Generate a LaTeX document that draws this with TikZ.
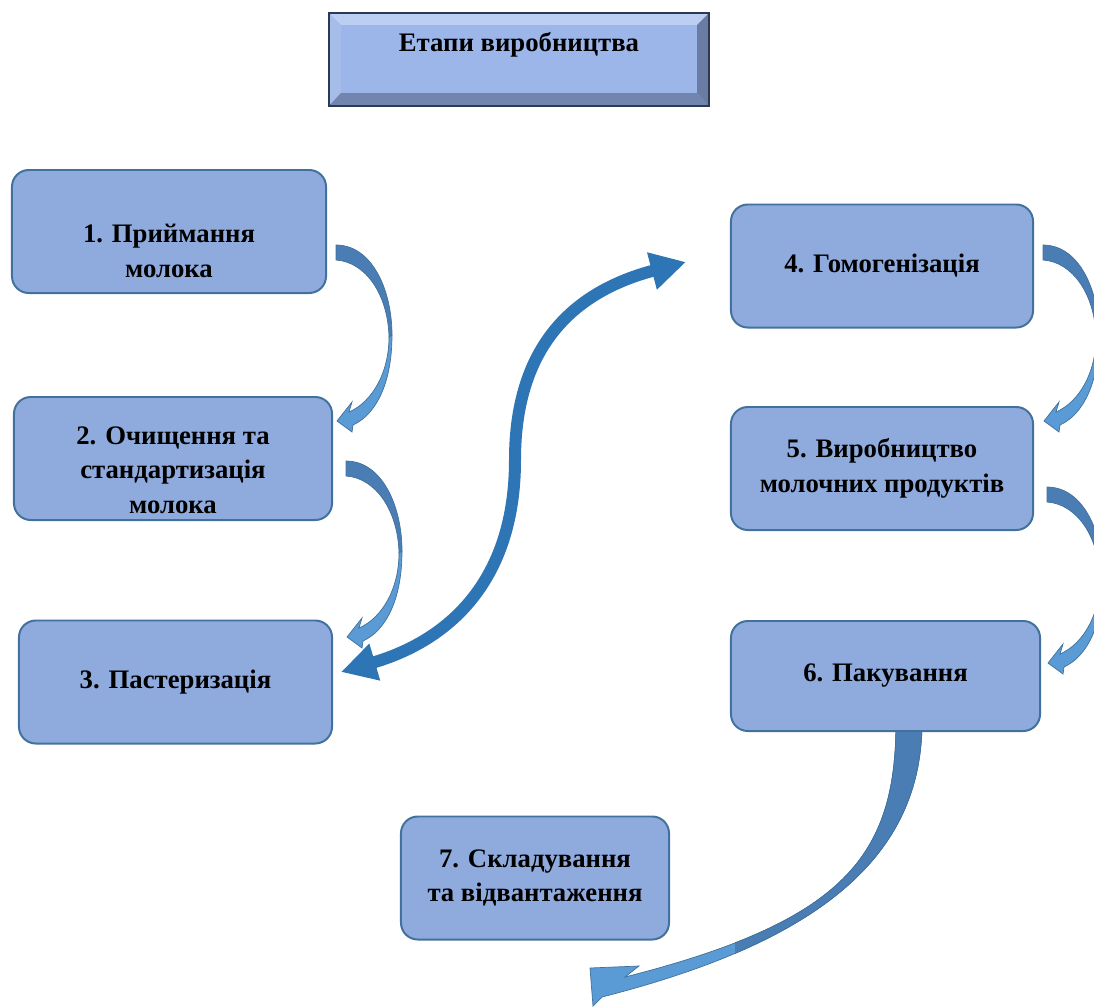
\documentclass[tikz,border=0pt]{standalone}
\usepackage{fontspec}
\setmainfont{Liberation Serif}
\usetikzlibrary{arrows.meta,calc,backgrounds}
\definecolor{stagefill}{HTML}{8FAADC}
\definecolor{stageline}{HTML}{41719C}
\definecolor{titleface}{HTML}{9CB6EA}
\definecolor{titlelight}{HTML}{BCCEF2}
\definecolor{titleside}{HTML}{A7BDE9}
\definecolor{titleshade}{HTML}{6A7CA3}
\definecolor{titledark}{HTML}{2B3954}
\definecolor{arrowdark}{HTML}{4A7DB4}
\definecolor{arrowlight}{HTML}{5B9BD5}
\definecolor{swingblue}{HTML}{2E75B6}

\begin{document}
\begin{tikzpicture}[x=0.025cm, y=-0.025cm,
  stage/.style={draw=stageline, line width=1.4pt, fill=stagefill, rounded corners=0.42cm,
    minimum height=3.075cm, align=center, font=\fontsize{19}{24.5}\selectfont\bfseries},
  titlebox/.style={draw=titledark, line width=1.6pt, fill=titleface, minimum width=9.45cm,
    minimum height=2.275cm, font=\fontsize{19}{24.5}\selectfont\bfseries},
  swing/.style={swingblue, line width=0.3cm,
    {Triangle[length=0.88cm,width=0.9cm]}-{Triangle[length=0.88cm,width=0.9cm]}},
  pics/bentarrow/.style={code={
    % back of the bend
    \filldraw[fill=arrowdark, draw=stageline, line width=0.5pt]
      (0,0) .. controls (36,0) and (56,45) .. (56,90)
      -- (53,92) .. controls (52,50) and (30,17) .. (0,15) -- cycle;
    % front of the bend with the head
    \filldraw[fill=arrowlight, draw=stageline, line width=0.5pt]
      (56,90) .. controls (56,140) and (39,170) .. (17,180)
      -- (16,187) -- (1,176) -- (16,157) -- (13,167)
      .. controls (36,157) and (53,128) .. (53,92) -- cycle;
  }}
]
  \useasboundingbox (0,0) rectangle (1094,1007);
  \clip (0,0) rectangle (1094,1007);

  % Title
  \node[titlebox, text depth=0.875cm] (title) at (519,59.5) {Етапи виробництва};
  \fill[titlelight] (title.north west) -- (title.north east) -- ($(title.north east)+(-12,12)$)
    -- ($(title.north west)+(12,12)$) -- cycle;
  \fill[titleside] (title.north west) -- ($(title.north west)+(12,12)$)
    -- ($(title.south west)+(12,-13)$) -- (title.south west) -- cycle;
  \fill[titleshade] (title.north east) -- ($(title.north east)+(-12,12)$)
    -- ($(title.south east)+(-12,-13)$) -- (title.south east) -- cycle;
  \fill[titleshade!85!titleface] (title.south west) -- ($(title.south west)+(12,-13)$)
    -- ($(title.south east)+(-12,-13)$) -- (title.south east) -- cycle;
  \draw[titledark, line width=1.6pt] (title.north west) rectangle (title.south east);

  % Stages, left column
  \node[stage, minimum width=7.85cm, text height=2.3cm] (receive) at (169,231.5) {1. Приймання\\молока};
  \node[stage, minimum width=7.95cm, text height=2.75cm] (clean) at (173,458.5) {2. Очищення та\\стандартизація\\молока};
  \node[stage, minimum width=7.825cm] (pasteur) at (175.5,682) {3. Пастеризація};

  % Stages, right column
  \node[stage, minimum width=7.55cm] (homog) at (882,266) {4. Гомогенізація};
  \node[stage, minimum width=7.55cm] (dairy) at (882,468.5) {5. Виробництво\\молочних продуктів};
  \node[stage, minimum width=7.725cm, minimum height=2.75cm] (pack) at (885.5,676) {6. Пакування};

  % Last stage
  \node[stage, minimum width=6.7cm] (store) at (535,878) {7. Складування\\та відвантаження};

  % Bent arrows between stages
  \pic at (336,245) {bentarrow};
  \pic at (346,461) {bentarrow};
  \pic at (1043,245) {bentarrow};
  \pic at (1047,487) {bentarrow};

  % Swing between pasteurization and homogenization
  \draw[swing] ($(pasteur.east)+(8,-10)$) .. controls (450,640) and (515,580) .. (515,460)
    .. controls (515,340) and (580,290) .. ($(homog.west)+(-44,-4)$);

  % Packing to storage
  \begin{scope}[on background layer]
    \filldraw[fill=arrowlight, draw=stageline, line width=0.5pt]
      ($(pack.south)+(10.5,-10)$) -- ($(pack.south)+(36.5,-10)$)
      .. controls (922,855) and (822,941) .. (602,997)
      -- (593,1006) -- (590,968) -- (639,966) -- (625,977)
      .. controls (845,921) and (896,856) .. ($(pack.south)+(10.5,-10)$) -- cycle;
    \begin{scope}
      \clip (735,700) rectangle (1000,1007);
      \filldraw[fill=arrowdark, draw=stageline, line width=0.5pt]
        ($(pack.south)+(10.5,-10)$) -- ($(pack.south)+(36.5,-10)$)
        .. controls (922,855) and (822,941) .. (602,997)
        -- (625,977)
        .. controls (845,921) and (896,856) .. ($(pack.south)+(10.5,-10)$) -- cycle;
    \end{scope}
  \end{scope}
\end{tikzpicture}
\end{document}
